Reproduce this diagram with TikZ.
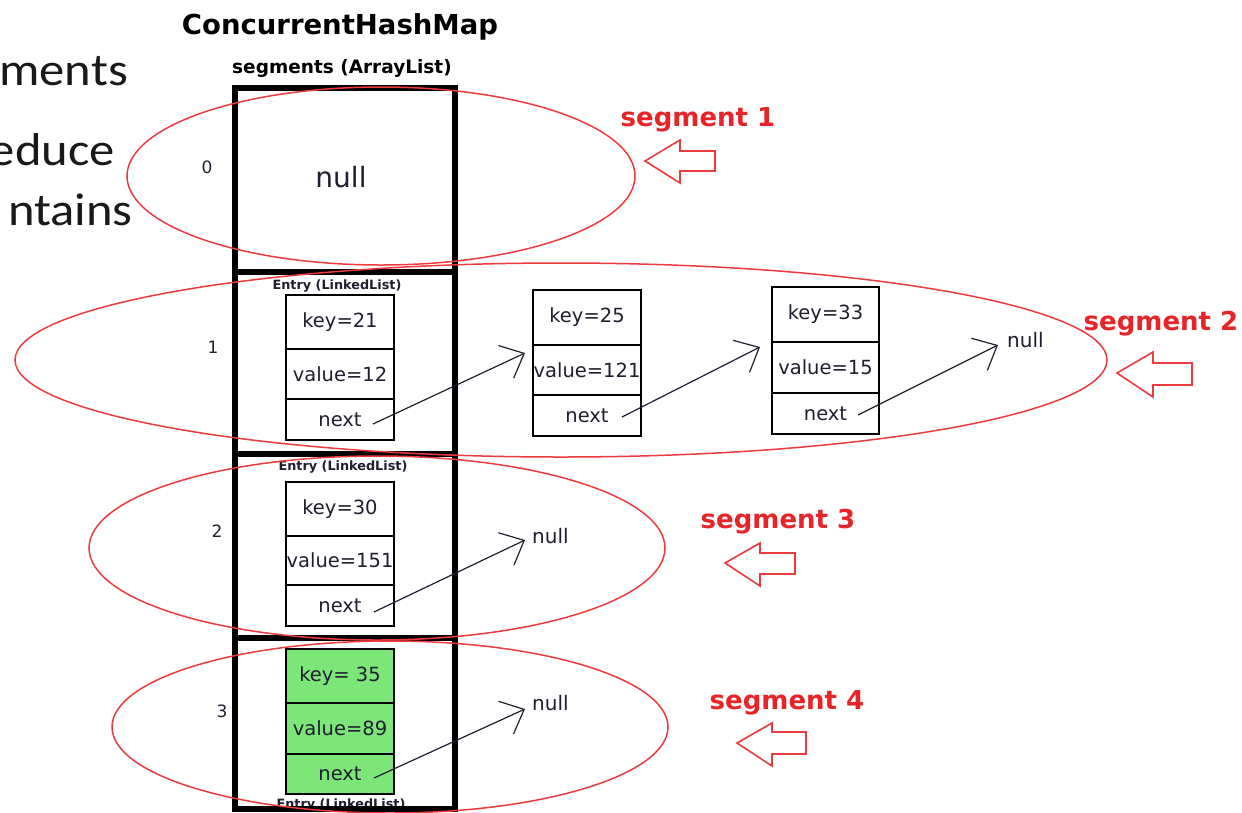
\documentclass[tikz,border=0pt]{standalone}
\usepackage{fontspec}
\setmainfont{DejaVu Sans}
\newfontfamily\slidefont[FakeStretch=1.1]{Carlito}
\usetikzlibrary{arrows.meta}
\definecolor{ink}{RGB}{30,30,48}
\definecolor{segred}{RGB}{232,36,40}
\definecolor{ringred}{RGB}{236,58,62}
\definecolor{hitgreen}{RGB}{124,230,120}

\begin{document}
\begin{tikzpicture}[x=1pt,y=-1pt,
  cell/.style={draw=black, line width=1.4pt, minimum width=108pt, inner sep=0pt,
    text=ink, font=\fontsize{19.5}{22}\selectfont},
  greencell/.style={cell, fill=hitgreen},
  slot/.style={draw=black, line width=6pt, minimum width=220pt, inner sep=0pt},
  idx/.style={text=ink, font=\fontsize{17}{20}\selectfont, inner sep=0pt},
  nulltxt/.style={text=ink, font=\fontsize{20}{22}\selectfont, inner sep=0pt},
  tag/.style={text=ink, font=\bfseries\fontsize{12.8}{14}\selectfont, inner sep=0pt},
  seglabel/.style={text=segred, font=\bfseries\fontsize{26}{30}\selectfont, inner sep=0pt},
  ring/.style={draw=ringred, line width=1.5pt},
  ptr/.style={draw=ink, line width=1.2pt, -{Straight Barb[length=20pt,width=36pt]}},
  hollow/.style={draw=ringred, line width=1.6pt, line join=miter},
  slide/.style={text=black!90, font=\slidefont\fontsize{46}{52}\selectfont,
    anchor=base east, inner sep=0pt},
]
\useasboundingbox (0,0) rectangle (1242,812);
\clip (0,0) rectangle (1242,812);

% clipped bullet text at the left edge
\node[slide] (w1) at (128,85) {ments};
\node[slide] (w2) at (115,165) {educe};
\node[slide] (w3) at (133,225) {ntains};

% headings
\node[text=black, font=\bfseries\fontsize{27.5}{30}\selectfont, inner sep=0pt] (title) at (340,27) {ConcurrentHashMap};
\node[text=black, font=\bfseries\fontsize{18.5}{22}\selectfont, inner sep=0pt] (arrtitle) at (342,68) {segments (ArrayList)};

% entry labels (the bottom one sits under the array border)
\node[tag] (tag1) at (337,286) {Entry (LinkedList)};
\node[tag] (tag2) at (343,467) {Entry (LinkedList)};
\node[tag] (tag3) at (341,805) {Entry (LinkedList)};

% the segments array
\node[slot, minimum height=184pt] (slot0) at (345,180) {};
\node[slot, minimum height=182pt] (slot1) at (345,363) {};
\node[slot, minimum height=184pt] (slot2) at (345,546) {};
\node[slot, minimum height=171pt] (slot3) at (345,723.5) {};

\node[text=ink, font=\fontsize{28}{30}\selectfont, inner sep=0pt] (null0) at (341,177) {null};

% indices
\node[idx] (i0) at (207,167) {0};
\node[idx] (i1) at (213,347) {1};
\node[idx] (i2) at (217,531) {2};
\node[idx] (i3) at (222,711) {3};

% slot 1 chain
\node[cell, minimum height=54pt] (e1k) at (340,322) {key=21};
\node[cell, minimum height=50pt] (e1v) at (340,374) {value=12};
\node[cell, minimum height=41pt] (e1n) at (340,419.5) {next};

\node[cell, minimum height=55pt] (e2k) at (587,317.5) {key=25};
\node[cell, minimum height=50pt] (e2v) at (587,370) {value=121};
\node[cell, minimum height=41pt] (e2n) at (587,415.5) {next};

\node[cell, minimum width=107pt, minimum height=55pt] (e3k) at (825.5,314.5) {key=33};
\node[cell, minimum width=107pt, minimum height=51pt] (e3v) at (825.5,367.5) {value=15};
\node[cell, minimum width=107pt, minimum height=41pt] (e3n) at (825.5,413.5) {next};

\node[nulltxt, anchor=west] (null1) at (1007,340) {null};

% slot 2 entry
\node[cell, minimum height=54pt] (f1k) at (340,509) {key=30};
\node[cell, minimum height=49pt] (f1v) at (340,560.5) {value=151};
\node[cell, minimum height=41pt] (f1n) at (340,605.5) {next};
\node[nulltxt, anchor=west] (null2) at (532,536) {null};

% slot 3 entry (highlighted)
\node[greencell, minimum height=54pt] (g1k) at (340,676) {key= 35};
\node[greencell, minimum height=51pt] (g1v) at (340,728.5) {value=89};
\node[greencell, minimum height=40pt] (g1n) at (340,774) {next};
\node[nulltxt, anchor=west] (null3) at (532,703) {null};

% next pointers
\coordinate (s1) at (373,424);  \coordinate (t1) at (525,353);
\coordinate (s2) at (622,417);  \coordinate (t2) at (760,347);
\coordinate (s3) at (858,415);  \coordinate (t3) at (998,345);
\coordinate (s4) at (374,612);  \coordinate (t4) at (525,540);
\coordinate (s5) at (374,778);  \coordinate (t5) at (525,709);
\draw[ptr] (s1) -- (t1);
\draw[ptr] (s2) -- (t2);
\draw[ptr] (s3) -- (t3);
\draw[ptr] (s4) -- (t4);
\draw[ptr] (s5) -- (t5);

% segment rings
\draw[ring] (381,176) ellipse [x radius=254pt, y radius=89pt];
\draw[ring] (561,360) ellipse [x radius=546pt, y radius=97pt];
\draw[ring] (377,548) ellipse [x radius=288pt, y radius=92pt];
\draw[ring] (390,727) ellipse [x radius=278pt, y radius=86pt];

% segment labels
\node[seglabel] (seg1) at (698,120) {segment 1};
\node[seglabel] (seg2) at (1161,324) {segment 2};
\node[seglabel] (seg3) at (778,522) {segment 3};
\node[seglabel] (seg4) at (787,703) {segment 4};

% hollow pointer arrows
\draw[hollow] (645,161) -- (680,140) -- (680,151) -- (715,151) -- (715,171) -- (680,171) -- (680,183) -- cycle;
\draw[hollow] (1117,373) -- (1153,352) -- (1153,363) -- (1192,363) -- (1192,385) -- (1153,385) -- (1153,397) -- cycle;
\draw[hollow] (725,563) -- (760,543) -- (760,553) -- (795,553) -- (795,574) -- (760,574) -- (760,586) -- cycle;
\draw[hollow] (737,743) -- (772,723) -- (772,732) -- (806,732) -- (806,754) -- (772,754) -- (772,766) -- cycle;
\end{tikzpicture}
\end{document}
